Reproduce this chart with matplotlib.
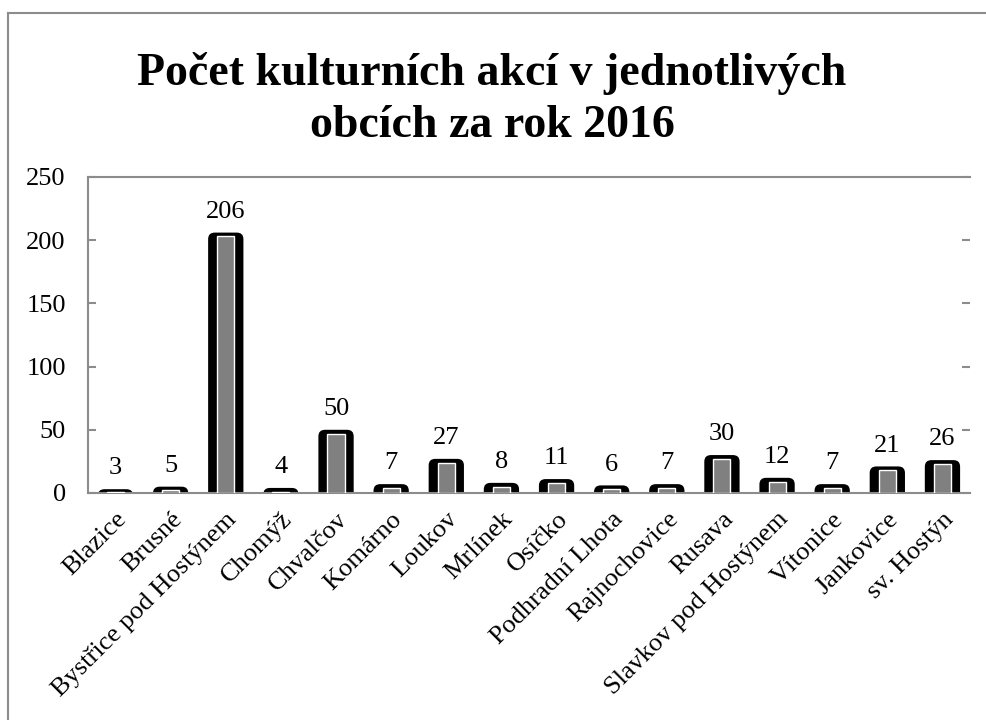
import matplotlib
matplotlib.use("Agg")
import matplotlib.pyplot as plt
from matplotlib.patches import FancyBboxPatch
from matplotlib.lines import Line2D
import numpy as np

obce = ["Blazice", "Brusné", "Bystřice pod Hostýnem", "Chomýž", "Chvalčov",
        "Komárno", "Loukov", "Mrlínek", "Osíčko", "Podhradní Lhota",
        "Rajnochovice", "Rusava", "Slavkov pod Hostýnem", "Vítonice",
        "Jankovice", "sv. Hostýn"]
akce = [3, 5, 206, 4, 50, 7, 27, 8, 11, 6, 7, 30, 12, 7, 21, 26]
y_ticks = [0, 50, 100, 150, 200, 250]

plt.rcParams['font.family'] = ['Liberation Serif', 'DejaVu Serif']

fig = plt.figure(figsize=(9.86, 7.2), dpi=100)
ax = fig.add_axes([0.0892, 0.3153, 0.8946, 0.4389])

x = np.arange(len(obce))
outer_w = 0.64
inner_w = 0.31

# outer black bars with rounded tops (bottom part hidden below zero)
for xi, v in zip(x, akce):
    p = FancyBboxPatch((xi - outer_w / 2, -12), outer_w, v + 12,
                       boxstyle="round,pad=0,rounding_size=0.12",
                       mutation_aspect=43, facecolor="black",
                       edgecolor="none", clip_on=True, zorder=2)
    ax.add_patch(p)

inner_h = [max(v - 3.0, 0.6) for v in akce]
ax.bar(x, inner_h, width=inner_w, color="#808080", edgecolor="white",
       linewidth=1.0, zorder=3)

for xi, v in zip(x, akce):
    ax.annotate(str(v), (xi, v), xytext=(0, 7), textcoords="offset points",
                ha="center", va="bottom", fontsize=19)

ax.set_xlim(-0.5, len(obce) - 0.5)
ax.set_ylim(0, 250)
ax.set_yticks(y_ticks)
ax.set_xticks(x)
ax.set_xticklabels(obce, rotation=45, ha="right", rotation_mode="anchor",
                   fontsize=19)
ax.tick_params(axis="x", length=0, pad=11)
ax.tick_params(axis="y", direction="in", length=6, width=1.5, color="#8c8c8c",
               labelsize=19, pad=16, right=True)

for side in ["left", "top", "bottom"]:
    ax.spines[side].set_color("#8c8c8c")
    ax.spines[side].set_linewidth(1.5)
ax.spines["right"].set_visible(False)

fig.text(0.499, 0.862, "Počet kulturních akcí v jednotlivých\nobcích za rok 2016",
         ha="center", va="center", fontsize=33, fontweight="bold",
         linespacing=1.3)

# outer chart frame
fig.add_artist(Line2D([0.0081, 0.0081], [0.0, 0.982], color="#8c8c8c", lw=1.5))
fig.add_artist(Line2D([0.0081, 1.0], [0.982, 0.982], color="#8c8c8c", lw=1.5))

fig.savefig("out.png", dpi=100)
